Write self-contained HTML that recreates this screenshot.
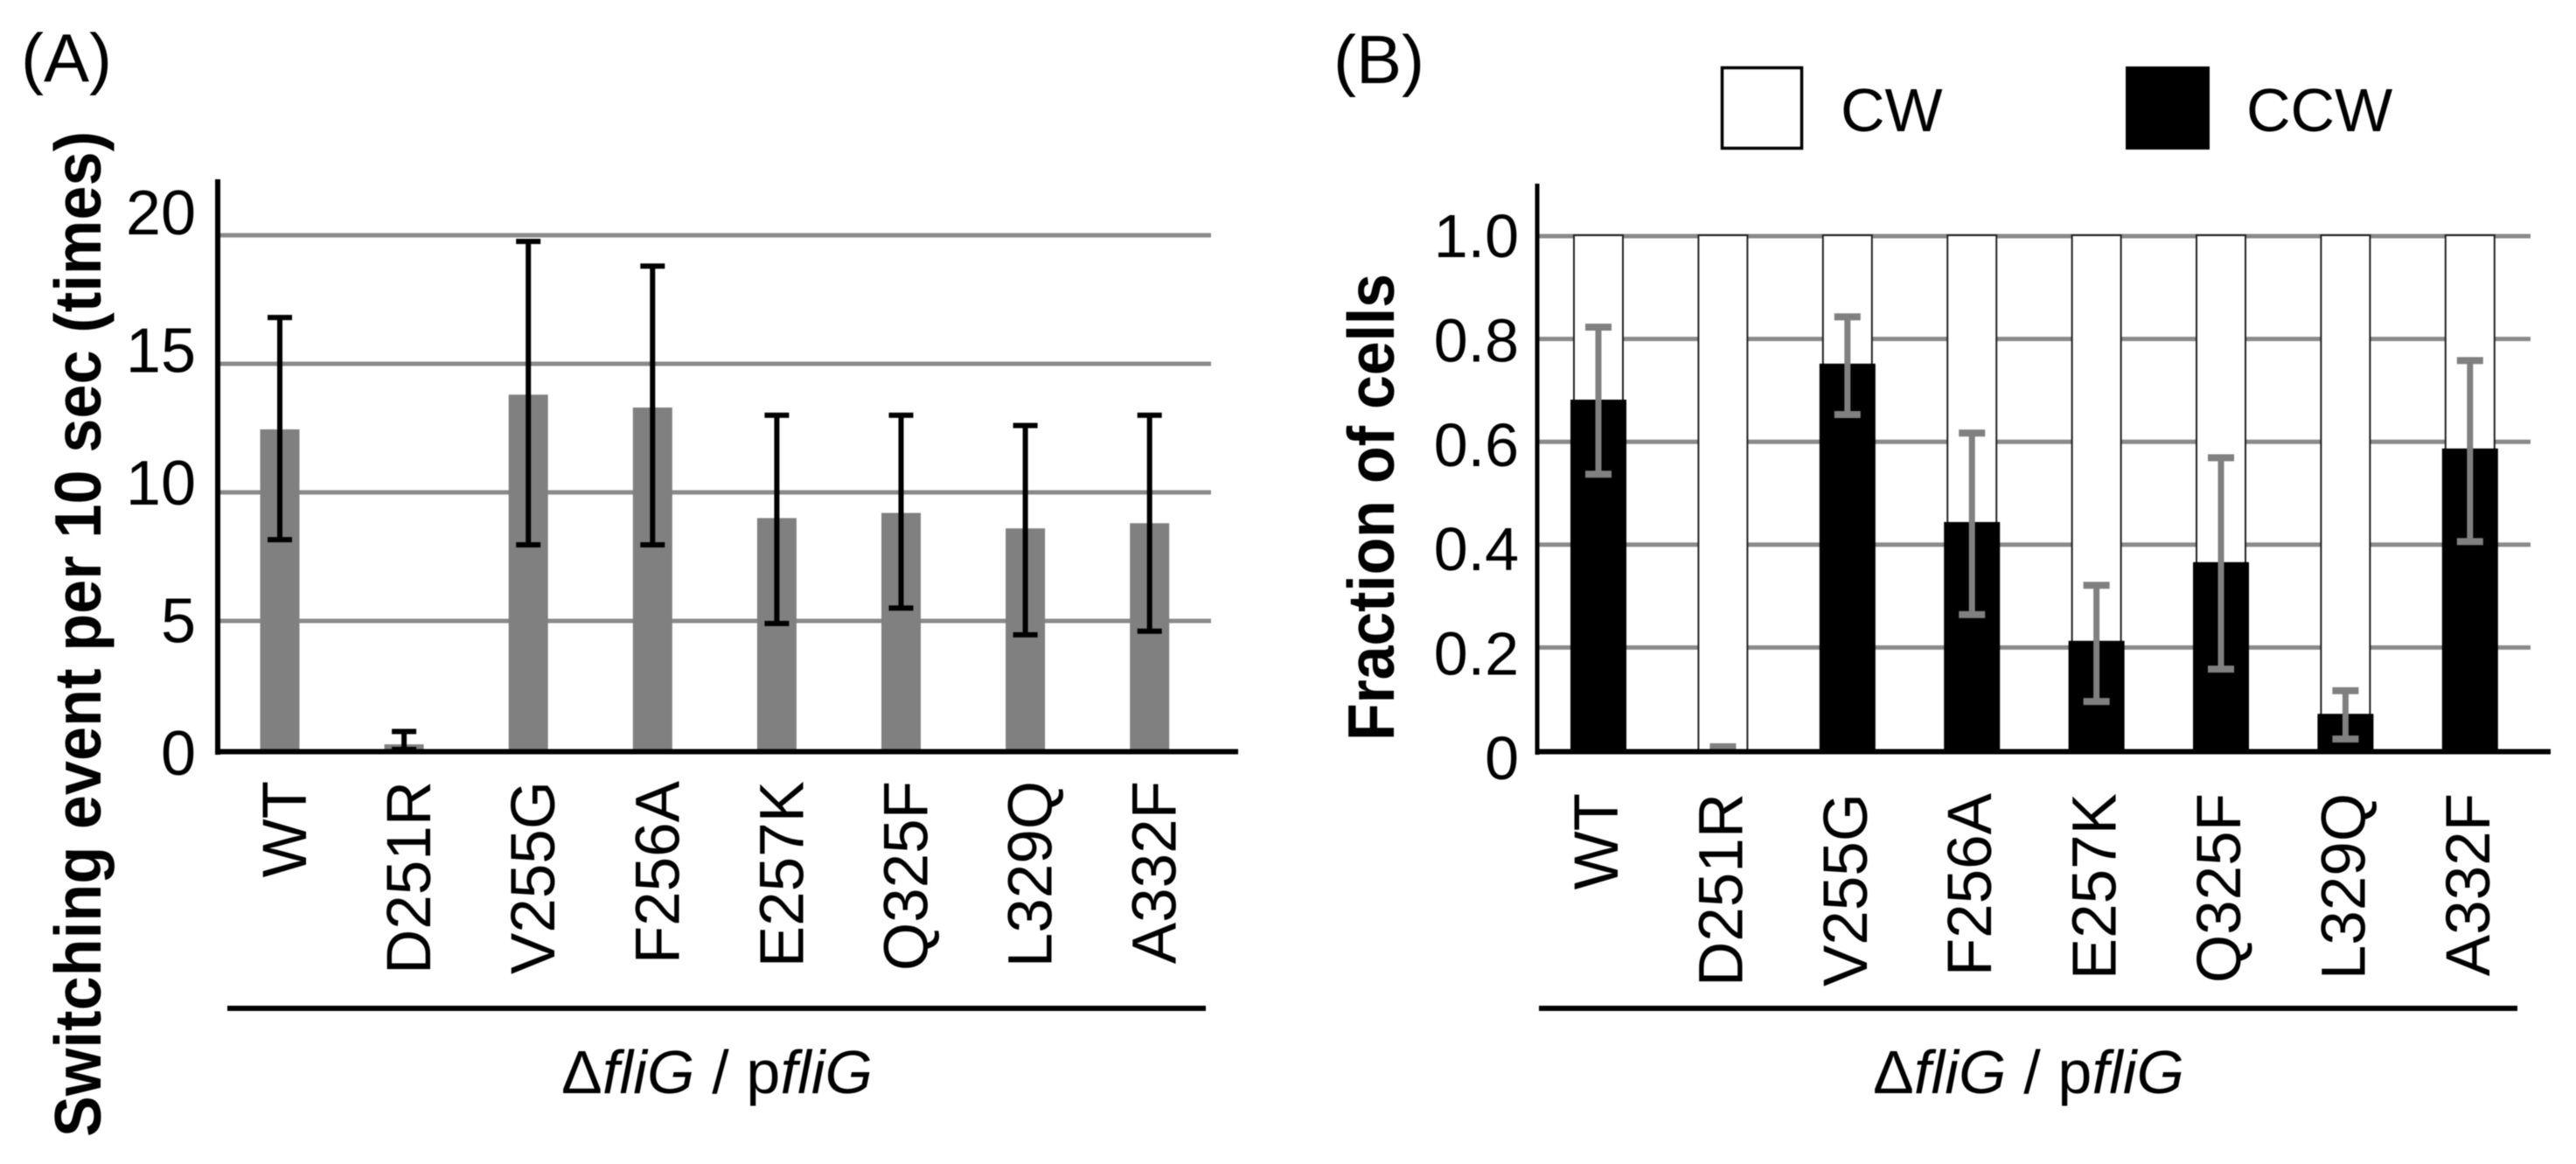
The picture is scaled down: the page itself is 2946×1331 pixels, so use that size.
<!DOCTYPE html>
<html>
<head>
<meta charset="utf-8">
<title>Switching events and rotation fractions</title>
<style>
html,body{margin:0;padding:0;background:#fff;}
svg{display:block;font-family:"Liberation Sans",sans-serif;filter:blur(0.6px);}
</style>
</head>
<body>
<svg id="fig" width="2946" height="1331" viewBox="0 0 2946 1331">
  <rect x="0" y="0" width="2946" height="1331" fill="#fff"/>
  <text x="24" y="93" font-size="78" fill="#000">(A)</text>
  <text x="1525" y="95" font-size="78" fill="#000">(B)</text>
  <text transform="translate(115 1300) rotate(-90) scale(1 1.08)" font-size="70" font-weight="bold" textLength="1150" fill="#000">Switching event per 10 sec (times)</text>
  <text transform="translate(1594 847) rotate(-90) scale(1 1.08)" font-size="70" font-weight="bold" textLength="534" fill="#000">Fraction of cells</text>
  <rect x="1969.5" y="77.5" width="91" height="92" fill="#fff" stroke="#000" stroke-width="3.5"/>
  <text x="2105" y="150" font-size="70" fill="#000">CW</text>
  <rect x="2431" y="76" width="96" height="95" fill="#000"/>
  <text x="2569" y="150" font-size="70" fill="#000">CCW</text>
  <g id="panelA"></g>
  <g id="panelB"></g>
  <rect x="260" y="1150" width="1119" height="6" fill="#000"/>
  <rect x="1760" y="1150" width="1119" height="6" fill="#000"/>
  <text x="642" y="1250" font-size="70" textLength="356" fill="#000">Δ<tspan font-style="italic">fliG</tspan> / p<tspan font-style="italic">fliG</tspan></text>
  <text x="2142" y="1250" font-size="70" textLength="356" fill="#000">Δ<tspan font-style="italic">fliG</tspan> / p<tspan font-style="italic">fliG</tspan></text>
</svg>
<script>
const categories = ['WT','D251R','V255G','F256A','E257K','Q325F','L329Q','A332F'];

const switchTicks = [5,10,15,20];
const switchLabelValues = [0,5,10,15,20];
const switchTickLabels = ['0','5','10','15','20'];
const switchMean = [12.45,0.2,13.8,13.3,9.0,9.2,8.6,8.8];
const switchHigh = [16.8,0.7,19.76,18.8,13.0,13.0,12.6,13.0];
const switchLow = [8.16,0,7.96,7.96,4.9,5.5,4.46,4.6];

const fractionTicks = [0.2,0.4,0.6,0.8,1.0];
const fractionLabelValues = [0,0.2,0.4,0.6,0.8,1.0];
const fractionTickLabels = ['0','0.2','0.4','0.6','0.8','1.0'];
const ccwFraction = [0.682,0,0.752,0.444,0.213,0.366,0.071,0.587];
const ccwHigh = [0.823,0.007,0.843,0.617,0.321,0.569,0.116,0.758];
const ccwLow = [0.537,0,0.653,0.264,0.095,0.158,0.022,0.406];

const NS = 'http://www.w3.org/2000/svg';

function make(parent, tag, props) {
  const el = document.createElementNS(NS, tag);
  for (const k in props) el.setAttribute(k, props[k]);
  parent.appendChild(el);
  return el;
}

/* ---------- Panel A axis functions ---------- */
function xA(i) { return 320 + i * 142.1; }
function yA(v) { return 857 - 29.4 * v; }
function tickLabelYA(v) { return 886 - 30.9 * v + (v % 10 === 5 ? 3 : 0); }

/* ---------- Panel B axis functions ---------- */
function xB(i) { return 1828 + i * 142.4; }
function yB(v) { return 858 - 588 * v; }
function tickLabelYB(v) { return 891 - 597 * v; }

/* ---------- Panel A ---------- */
const gA = document.getElementById('panelA');

switchTicks.forEach(function (t) {
  const el = make(gA, 'rect', {x: 249, y: yA(t) - 2.5, width: 1136, height: 5, fill: '#8a8a8a'});
  
  
});

switchLabelValues.forEach(function (t, i) {
  const el = make(gA, 'text', {x: 224, y: tickLabelYA(t), 'font-size': 72, 'text-anchor': 'end', fill: '#000'});
  el.textContent = switchTickLabels[i];
  
  
});

categories.forEach(function (c, i) {
  const bar = make(gA, 'rect', {x: xA(i) - 22.5, y: yA(switchMean[i]), width: 45, height: yA(0) - yA(switchMean[i]), fill: '#808080'});
  
  

  const stem = make(gA, 'rect', {x: xA(i) - 3, y: yA(switchHigh[i]), width: 6, height: yA(switchLow[i]) - yA(switchHigh[i]), fill: '#000'});
  
  

  const capTop = make(gA, 'rect', {x: xA(i) - 14, y: yA(switchHigh[i]) - 3, width: 28, height: 6, fill: '#000'});
  
  

  const capBottom = make(gA, 'rect', {x: xA(i) - 14, y: yA(switchLow[i]) - 3, width: 28, height: 6, fill: '#000'});
  
  

  const label = make(gA, 'text', {transform: 'translate(' + (xA(i) + 30) + ' 893) rotate(-90)', 'font-size': 71, 'text-anchor': 'end', fill: '#000'});
  label.textContent = c;
  
  
});

const axisAy = make(gA, 'rect', {x: 246, y: 205, width: 6, height: 658, fill: '#000'});



const axisAx = make(gA, 'rect', {x: 246, y: 856.5, width: 1170, height: 6, fill: '#000'});



/* ---------- Panel B ---------- */
const gB = document.getElementById('panelB');

fractionTicks.forEach(function (t) {
  const el = make(gB, 'rect', {x: 1758, y: yB(t) - 2.5, width: 1136, height: 5, fill: '#8a8a8a'});
  
  
});

fractionLabelValues.forEach(function (t, i) {
  const el = make(gB, 'text', {x: 1737, y: tickLabelYB(t), 'font-size': 70, 'text-anchor': 'end', fill: '#000'});
  el.textContent = fractionTickLabels[i];
  
  
});

categories.forEach(function (c, i) {
  const cw = make(gB, 'rect', {x: xB(i) - 28, y: yB(1) - 1, width: 56, height: yB(0) - yB(1) + 1, fill: '#fff', stroke: '#222', 'stroke-width': 2});
  
  

  const ccw = make(gB, 'rect', {x: xB(i) - 32, y: yB(ccwFraction[i]), width: 64, height: yB(0) - yB(ccwFraction[i]) + 4, fill: '#000'});
  
  

  const stem = make(gB, 'rect', {x: xB(i) - 3.5, y: yB(ccwHigh[i]), width: 7, height: yB(ccwLow[i]) - yB(ccwHigh[i]), fill: '#808080'});
  
  

  const capTop = make(gB, 'rect', {x: xB(i) - 15, y: yB(ccwHigh[i]) - 4, width: 30, height: 8, fill: '#808080'});
  
  

  const capBottom = make(gB, 'rect', {x: xB(i) - 15, y: yB(ccwLow[i]) - 4, width: 30, height: 8, fill: '#808080'});
  
  

  const label = make(gB, 'text', {transform: 'translate(' + (xB(i) + 22) + ' 907) rotate(-90)', 'font-size': 71, 'text-anchor': 'end', fill: '#000'});
  label.textContent = c;
  
  
});

const axisBy = make(gB, 'rect', {x: 1755.5, y: 210, width: 5, height: 653, fill: '#000'});



const axisBx = make(gB, 'rect', {x: 1755.5, y: 856.5, width: 1161.5, height: 6, fill: '#000'});


</script>
</body>
</html>
